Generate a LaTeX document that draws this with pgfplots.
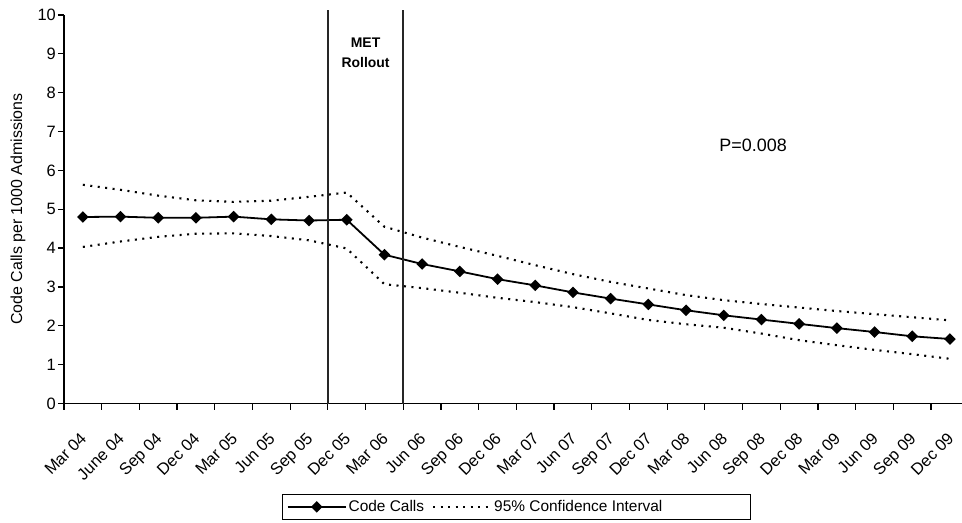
\documentclass[border=0pt]{standalone}
\usepackage{pgfplots}
\pgfplotsset{compat=1.18}
\usepackage{fontspec}
\setmainfont{Liberation Sans}

\pgfplotstableread{
x calls upper lower
0 4.80 5.63 4.03
1 4.81 5.50 4.17
2 4.78 5.35 4.29
3 4.78 5.23 4.37
4 4.81 5.19 4.38
5 4.74 5.22 4.31
6 4.71 5.32 4.20
7 4.73 5.43 3.99
8 3.83 4.55 3.07
9 3.59 4.27 2.97
10 3.40 4.03 2.85
11 3.20 3.80 2.72
12 3.04 3.56 2.61
13 2.86 3.33 2.48
14 2.70 3.13 2.32
15 2.55 2.96 2.15
16 2.40 2.79 2.04
17 2.27 2.66 1.95
18 2.16 2.56 1.80
19 2.05 2.47 1.63
20 1.94 2.38 1.50
21 1.84 2.30 1.38
22 1.73 2.22 1.27
23 1.66 2.14 1.15
}\datatable

\begin{document}
\begin{tikzpicture}
\path[use as bounding box] (-64bp,-119.5bp) rectangle (898bp,403.5bp);
\begin{axis}[
  at={(0bp,0bp)}, anchor=south west,
  scale only axis,
  width=898bp, height=388.5bp,
  xmin=-0.5, xmax=23.32,
  ymin=0, ymax=10,
  clip=false,
  axis x line*=bottom, axis y line*=left,
  axis line style={line width=1.3bp, black},
  tick align=outside,
  major tick length=6bp,
  minor tick length=6bp,
  every tick/.style={black, line width=1.2bp},
  ytick={0,1,...,10},
  xtick={0,1,...,23},
  xticklabels={Mar 04, June 04, Sep 04, Dec 04, Mar 05, Jun 05, Sep 05, Dec 05, Mar 06, Jun 06, Sep 06, Dec 06, Mar 07, Jun 07, Sep 07, Dec 07, Mar 08, Jun 08, Sep 08, Dec 08, Mar 09, Jun 09, Sep 09, Dec 09},
  minor xtick={-0.5,0.5,...,22.5},
  major x tick style={draw=none},
  /pgf/number format/assume math mode=true,
  yticklabel style={font=\fontsize{16.5}{18}\selectfont, inner sep=2bp},
  xticklabel style={font=\fontsize{16.5}{18}\selectfont, rotate=45, anchor=north east, inner sep=1bp, yshift=-12bp, xshift=-17bp},
  ylabel={Code Calls per 1000 Admissions},
  every axis y label/.style={at={(axis description cs:-0.0512,0.5)}, rotate=90, anchor=center, font=\fontsize{16}{18}\selectfont},
  legend columns=2,
  legend style={at={(axis description cs:0.5039,-0.2330)}, anchor=north,
    draw=black, line width=1bp, font=\fontsize{15.5}{17}\selectfont,
    inner xsep=4bp, inner ysep=4bp,
    /tikz/every even column/.append style={column sep=6bp}},
  legend image code/.code={\draw[mark repeat=2,mark phase=2,#1] plot coordinates {(0bp,0bp) (29bp,0bp) (58bp,0bp)};},
]
\addplot[black, line width=1.8bp, mark=square*, mark size=3.2bp, mark options={rotate=45, solid, fill=black}]
  table[x=x, y=calls] {\datatable};
\addlegendentry{Code Calls}
\addplot[black, line width=2.1bp, dash pattern=on 2bp off 5.5bp]
  table[x=x, y=upper] {\datatable};
\addlegendentry{\makebox[250bp][l]{95\% Confidence Interval}}
\addplot[black, line width=2.1bp, dash pattern=on 2bp off 5.5bp, forget plot]
  table[x=x, y=lower] {\datatable};
\addplot[black!85, line width=1.6bp, forget plot] coordinates {(6.5,0) (6.5,10.13)};
\addplot[black!85, line width=1.6bp, forget plot] coordinates {(8.5,0) (8.5,10.13)};
\node[font=\fontsize{14}{20}\selectfont\bfseries, align=center] at (axis cs:7.5,9.02) {MET\\Rollout};
\node[font=\fontsize{18}{20}\selectfont] at (axis cs:17.78,6.65) {P=0.008};
\end{axis}
\end{tikzpicture}
\end{document}
